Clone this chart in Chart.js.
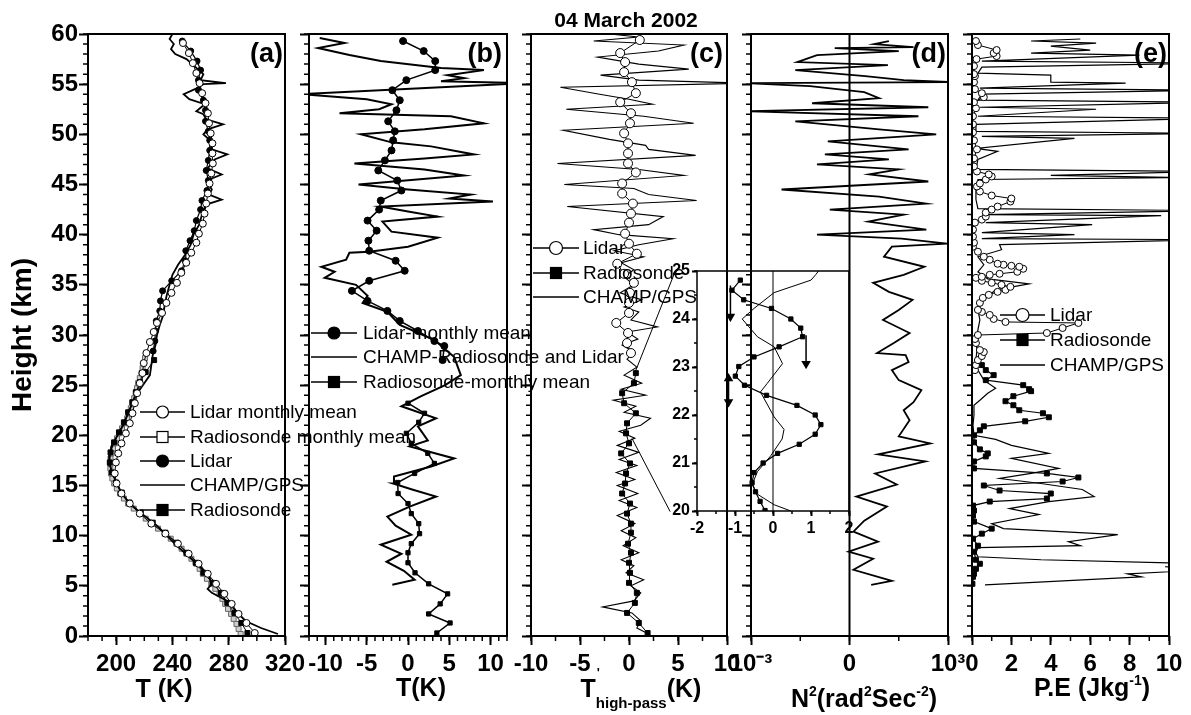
<!DOCTYPE html>
<html lang="en">
<head>
<meta charset="UTF-8">
<title>04 March 2002 - temperature, perturbation, N2 and P.E profiles</title>
<script src="https://cdn.jsdelivr.net/npm/chart.js"></script>
<style>
  body { margin: 0; background: #fff; }
  #wrap { position: relative; width: 1191px; height: 715px; }
  #wrap canvas { position: absolute; left: 0; top: 0; }
</style>
</head>
<body>
<div id="wrap">
  <canvas id="panelA" width="1191" height="715"></canvas>
  <canvas id="panelB" width="1191" height="715"></canvas>
  <canvas id="panelC" width="1191" height="715"></canvas>
  <canvas id="panelD" width="1191" height="715"></canvas>
  <canvas id="panelE" width="1191" height="715"></canvas>
  <canvas id="inset" width="1191" height="715"></canvas>
</div>
<script>
// ---- tick values ----
const heightTicks = [0, 5, 10, 15, 20, 25, 30, 35, 40, 45, 50, 55, 60];
const aTicks = [200, 240, 280, 320];
const bTicks = [-10, -5, 0, 5, 10];
const cTicks = [-10, -5, 0, 5, 10];
const dTicks = [-1, 0, 1];
const dTickLabels = ['10\u207B\u00B3', '0', '10\u00B3'];
const eTicks = [0, 2, 4, 6, 8, 10];
const insetXTicks = [-2, -1, 0, 1, 2];
const insetYTicks = [20, 21, 22, 23, 24, 25];

// ---- (a) temperature (K) ----
const aLidarMeanH = [0.3,1.3,2.2,3.2,4.2,5.2,6.2,7.2,8.2,9.2,10.2,11.2,12.2,13.2,14.2,15.2,16.2,17.3,18.2,19.2,20.2,21.2,22.2,23.2,24.2,25.2,26.2,27.2,28.2,29.3,30.3,31.2,32.2,33.2,34.2,35.2,36.2,37.2,38.2,39.2,40.1,41.1,42.1,43.1,44.1,45.1,46.1,47.1,48.1,49.1,50.1,51.1,52.1,53.1,54.1,55.1,56.1,57.1,58.1,59.1];
const aLidarMeanT = [298.5,292.6,287,282.1,276.9,271,265.1,258.6,251.5,243.9,235,225,216.8,209.7,203.8,200.3,199,199.8,201.5,203.8,206.9,209.7,211.6,213.3,214.9,216.8,218.7,219.6,221.5,224,226.7,229,232.6,235.7,239.3,243.2,246.3,249.8,253.4,257,258.8,261.6,262.8,264,265.2,266.4,267.6,268.7,268.4,268.4,267.2,266,265.2,263.5,261.1,259.3,257,254.5,251.7,247.5];
const aRadMeanH = [0.2,0.7,1.2,1.7,2.2,2.7,3.2,3.7,4.2,4.7,5.2,5.7,6.2,6.7,7.2,7.7,8.2,8.7,9.2,9.7,10.2,10.7,11.2,11.7,12.2,12.7,13.2,13.7,14.2,14.7,15.2,15.7,16.2,16.7,17.2,17.7,18.2,18.7,19.2,19.7,20.2,20.7,21.2,21.7,22.2,22.7,23.2,23.7,24.2,24.7,25.2,25.7,26.2,26.7,27.2,27.7];
const aRadMeanT = [288.5,287,285.5,283.5,281.7,279.5,277.5,275.5,273.5,270.5,267.6,264.5,261.6,259.3,257,253.5,249.9,246.5,242.8,238.8,234.5,229.8,225,221,216.8,212.5,208.5,205.5,202.7,200.5,198.6,197.3,196.3,195.9,195.6,196,196.8,197.8,199.1,200.6,202.2,204.2,206.2,207.8,209.2,210.4,211.6,212.8,214,214.8,215.6,216.8,218,218.8,219.6,220.5];
const aLidarH = [28.4,29.4,30.4,31.4,32.4,33.4,34.4,35.4,36.4,37.4,38.4,39.4,40.4,41.4,42.5,43.4,44.4,45.4,46.4,47.4,48.4,49.4,50.3,51.3,52.4,53.4,54.4,55.4,56.4,57.3,58.3,59.3];
const aLidarT = [226.3,227.5,228,228.5,231,231.5,233,239.5,246.5,249,249.5,252.5,255.5,257,260,261,264.5,265.5,264,265.5,266.5,266.5,265.5,263.5,263.5,262,258.5,258.5,260,257.5,253,247];
const aChampH = [0.2,0.8,1.5,2.5,3.5,4.3,4.7,5.2,6,7,8,9,10,11,12,13,14,15,16,17,18,19,20,21,22,23,24,25,26,27,28,29,30,31,32,33,34,35,36,37,38,39,40,41,42,43,43.5,44,44.5,45,45.6,46,46.6,47.5,48,48.5,49.5,50,50.5,51,51.5,52,52.3,53,53.5,54,54.5,55,55.1,55.4,56,56.5,57,57.5,58,58.5,59,59.5,60];
const aChampT = [315,303,292,285,279,268,265,268,266,259,251,243,236,229,220,211,205,201,198,195.5,195,197,201,205,208,211,214,219,224,225,226,228,229,231,233.5,234.5,236,238,240,244,249,253,255,259,261,264,275,266,268,266,268,275,265,270,279,268,266,262,265,276,264,262,257,263,252,248,256,262,278,260,262,258,254,250,242,239,241,238,240];
const aRadH = [0.3,1.3,2.3,3.3,4.3,5.3,6.3,7.3,8.3,9.3,10.3,11.3,12.3,13.3,14.3,15.3,16.3,17.3,18.3,19.3,20.3,21.3,22.3,23.3,24.3,25.3,26.3,27.5];
const aRadT = [293.3,289,284,279,274.5,268.5,262,256.5,250,243,235,226,217.5,209.5,204,200,197,195.5,196,198.5,202,205.5,208.5,211.5,214,217,221,227];

// ---- (b) deviation from monthly mean (K) ----
const bLidarH = [27.5,28.9,29.4,30.4,31.4,32.4,33.4,34.4,35.4,36.4,37.4,38.4,39.4,40.4,41.4,42.5,43.4,44.4,45.4,46.4,47.4,48.4,49.4,50.3,51.3,52.4,53.4,54.4,55.4,56.4,57.3,58.3,59.3];
const bLidarT = [4.2,4.4,3.2,1.2,-1.0,-2.5,-4.9,-6.8,-4.7,-0.4,-1.5,-4.7,-4.8,-3.8,-4.9,-3.5,-3.3,-0.8,-1.3,-3.6,-2.8,-2.0,-1.8,-1.6,-2.4,-1.4,-1.0,-1.9,-0.2,3.3,3.3,1.9,-0.6];
const bChampH = [5.1,5.6,6.5,7.4,8.2,9.1,10.1,11.0,11.9,12.9,13.9,14.6,15.2,15.9,16.9,17.7,18.9,19.5,20.9,21.7,22.9,23.9,25.0,26.0,27.8,29.5,30.3,31.0,32.3,33.2,33.9,35.0,35.7,36.3,36.8,37.5,38.2,38.3,38.8,39.7,40.3,41.3,41.8,42.3,42.8,43.3,43.6,44.0,44.5,45.0,45.9,46.5,47.1,47.6,48.0,48.8,49.2,50.0,50.5,51.1,51.8,52.1,52.5,53.0,53.5,54.0,55.1,55.3,55.6,55.9,56.4,56.6,57.3,57.9,58.6,59.1,59.6];
const bChampT = [-1.9,0.8,-0.5,-2.6,-0.8,-3.3,0.4,-1.5,-2.5,0.2,3.4,0.5,-1.8,-1.7,2.8,5.6,0.2,2.4,1.2,3.4,-0.8,1.6,4.5,6.4,5.6,3.2,1,-1.0,-2.5,-5.5,-4.9,-6.3,-10.1,-8.9,-10.5,-7.5,-7.1,-4.7,0,3.6,-2,-3.1,3.6,0,-3.3,10.3,5,7.6,0,-6,6.8,2,-6.5,2,8.0,2.8,-2,-5.7,2,9.2,5.2,-8.3,-3.5,-2,-5,-13,14,4,6.8,4.8,9.2,4.0,-3.3,-7.1,-10.9,-7.7,-10.7];
const bRadH = [0.3,1.3,2.2,3.2,4.2,5.2,6.3,7.3,8.3,9.2,10.2,11.2,12.2,13.2,14.2,15.3,16.2,17.2,18.2,19.2,20.2,21.3,22.2,23.2];
const bRadT = [3.5,5.1,2.5,3.9,4.8,2.5,0.85,0,0,0.4,1.4,1.3,0.4,0,-1.2,-1.25,0.8,3.2,2.4,0.4,-0.2,1.3,2.0,0];

// ---- (c) high-pass perturbation (K) ----
const cLidarH = [28.2,29.2,30.2,31.2,32.2,33.2,34.2,35.2,36.1,37.1,38.1,39.1,40.1,41.2,42.1,43.1,44.1,45.1,46.2,47.1,48.1,49.1,50.1,51.1,52.1,53.2,54.1,55.2,56.2,57.2,58.1,59.4];
const cLidarT = [0.2,-0.2,-0.1,-1.3,0,0,0.1,0.5,-0.5,-1.2,0.8,0,-0.4,0,0.2,0.4,-0.7,-0.7,0.7,-0.1,-0.1,-0.1,-0.5,0.1,0.2,-0.9,0.7,0.3,-0.5,-0.4,-0.9,1.1];
const cRadH = [0.3,1.3,2.3,3.3,4.3,5.3,6.3,7.3,8.3,9.2,10.3,11.2,12.2,13.2,14.2,15.2,16.2,17.2,18.2,19.2,20.2,21.2,22.2,23.2,24.2,25.2,26.2];
const cRadT = [1.9,1.0,-0.2,0.6,0.8,0,0.1,0,0.2,-0.1,0.2,0.2,-0.2,0.1,-0.7,-0.4,-0.3,0.1,-0.8,0,-0.3,-0.2,0.7,-0.5,-0.7,0.5,0.7];
const cChampH = [0.2,0.8,1.5,2.3,2.9,3.5,4.3,5.0,5.6,6.3,7.0,7.6,8.3,9.0,9.8,10.5,11.2,12.0,12.8,13.5,14.2,15.0,15.6,16.3,17.0,17.6,18.3,19.0,19.7,20.4,21.0,21.7,22.3,22.9,23.5,24.0,24.6,25.2,26.0,26.8,27.6,28.3,29.0,29.6,30.3,30.8,31.5,32.3,32.8,33.5,34.2,35.0,35.8,36.5,37.2,37.8,38.4,39.0,39.6,40.0,40.5,41.0,41.8,42.8,43.4,44.0,44.6,45.0,45.9,46.5,47.1,47.9,48.5,48.9,49.5,50.4,51.1,51.8,52.5,53.0,53.5,54.0,54.7,55.1,55.4,55.9,56.5,57.0,57.7,58.3,58.9,59.3,59.7,60.0];
const cChampT = [2,0.8,1.2,0.3,-2.7,0.5,1.2,0.2,1.5,-0.3,0.5,-0.8,1.0,-0.6,0.7,-0.8,0.6,-1.2,0.8,-1.0,0.9,-1.2,0.6,-1.3,0.8,-1.0,1.0,-1.2,0.6,-1.0,1.2,2.2,-0.5,0.7,-1.6,1.7,-0.8,1.3,-0.5,0.8,-0.2,0.5,-0.7,0.9,-0.2,2.9,0.2,1.0,-0.5,1.3,-0.9,0.5,-0.5,0.5,-0.8,1.5,-1.5,1.0,4.5,-1,-3.6,2,3.5,-6.3,6.9,2,0.5,-6.6,5.6,1,-7.3,6.8,2,1.7,-2,-6.7,6.6,1.5,-6.4,2.4,0,-3,-7.0,12,1,-2.9,6.1,1,-3.2,3,5.6,-3.6,1,-2];
// zoom guide lines from the panel to the inset
const cLinkTopH = [26.0, 36.3];
const cLinkTopT = [0.5, 4.7];
const cLinkBotH = [19.7, 12.4];
const cLinkBotT = [0.3, 4.2];

// ---- (d) N^2 (axis units: -1 = 1e-3 side, 0, 1 = 1e3 side) ----
const dH = [5.1,5.5,6.6,7.7,8.4,9.4,10.4,11.5,12.9,13.9,15.1,16.2,17.4,18.1,19.2,19.9,21.5,22.5,23.3,24.5,25.5,26.5,27.3,28.0,28.2,29.2,30.2,31.5,32.5,33.5,34.3,35.2,36.0,36.8,37.8,38.8,39.1,39.6,40.0,40.5,41.3,42.0,42.5,43.1,43.8,44.5,45.3,46.0,46.5,47.0,47.5,48.0,48.5,49.3,50.0,50.5,51.3,51.8,52.3,52.7,53.1,53.6,54.2,54.8,55.1,55.2,55.4,55.8,56.4,56.9,57.2,57.9,58.3,58.6,58.7,59.0,59.3];
const dV = [0.22,0.43,0.04,0.24,-0.01,0.29,0.04,0.15,0.38,0.07,0.48,0.26,0.77,0.29,0.82,0.5,0.61,0.55,0.65,0.73,0.5,0.43,0.6,0.57,0.28,0.45,0.61,0.34,0.5,0.64,0.4,0.24,0.55,0.76,0.35,0.43,0.99,0.53,-0.33,0.78,0.19,0.55,-0.2,0.78,0.3,-0.69,0.8,0.2,0.5,-0.33,0.4,-0.25,0.6,-0.22,0.88,0.3,-0.55,0.7,-1.05,0.8,-0.38,0.3,0.15,-0.4,-1.05,1.05,0.55,0.16,-0.55,0.39,-0.53,-0.33,0.5,-0.15,0.65,0.25,0.4];

// ---- (e) potential energy (J/kg) ----
const eLidarH = [26.5,27.0,27.5,27.9,28.3,28.5,29.2,29.6,30.0,30.2,30.7,31.2,31.3,31.6,32.0,32.3,32.5,33.2,33.7,34.0,34.3,34.5,34.8,35.0,35.2,35.4,35.7,35.8,36.0,36.1,36.3,36.6,36.8,36.9,37.0,37.1,37.5,37.8,38.3,38.8,39.2,39.8,40.5,41.2,41.5,41.8,42.2,42.5,42.8,43.3,43.6,43.9,44.3,44.8,45.1,45.5,45.8,46.0,46.3,46.8,47.6,48.5,49.4,50.2,51.0,51.8,52.6,53.2,53.7,54.1,54.5,55.2,55.8,56.0,56.8,57.5,57.8,58.1,58.4,58.9,59.3];
const eLidarV = [0.15,0.2,0.3,0.5,0.6,0.4,0.2,0.15,0.3,3.8,4.6,5.4,1.7,1.1,0.9,0.5,0.3,0.4,0.55,0.85,1.3,1.7,1.95,1.5,1.0,0.5,0.2,0.5,0.9,1.4,2.3,2.6,2.4,2.0,1.6,1.3,0.9,0.6,0.3,0.05,0.1,0.05,0.05,0.15,0.5,0.7,0.7,1.0,1.3,1.95,2.0,1.0,0.4,0.25,0.4,0.7,1.0,0.85,0.25,0.1,0.1,0.25,0.1,0.05,0.05,0.05,0.2,0.1,0.6,0.5,0.15,0.1,0.15,0.1,0.1,0.23,1.25,1.1,1.25,0.3,0.2];
const eRadH = [5.2,5.9,6.2,6.7,7.2,7.6,8.4,9.0,9.7,10.2,10.7,11.4,12.0,12.5,13.0,13.4,13.7,14.2,14.5,15.0,15.4,15.8,16.2,16.7,17.4,17.9,18.2,18.6,19.3,20.0,20.5,20.9,21.4,21.8,22.2,22.5,23.0,23.4,23.9,24.4,24.6,25.0,25.5,26.0,26.5,27.0];
const eRadV = [0.02,0.05,0.1,0.2,0.4,0.2,0.1,0.3,0.05,0.5,1.0,0.1,0.05,0.1,0.05,0.9,3.8,4.0,1.4,0.6,4.6,5.4,3.8,0.1,0.1,0.7,0.8,0.4,0.1,0.1,0.4,0.6,2.7,3.9,3.6,2.4,2.1,1.7,2.1,3.0,2.9,2.6,0.7,1.1,0.7,0.5];
const eChampH = [5.1,5.9,6.2,6.6,6.9,7.2,7.6,7.9,8.3,8.8,9.0,9.4,10.1,10.7,11.2,12.1,12.7,13.4,13.9,14.6,15.2,15.7,16.2,16.7,17.7,18.2,19.0,19.6,20.0,21.0,22.0,23.0,23.5,24.2,24.7,25.5,26.5,27.5,28.5,29.5,30.5,31.5,32.5,33.5,34.5,35.1,35.6,36.3,37.0,37.8,38.5,39.0,39.5,39.6,40.0,40.2,41.0,41.2,41.9,42.0,42.4,42.6,43.5,44.5,45.5,45.7,45.9,46.3,46.5,47.5,48.3,48.6,49.6,49.8,50.1,50.3,51.0,51.6,51.8,52.5,52.7,53.2,53.4,54.0,54.4,54.6,55.1,55.2,55.9,56.1,56.7,57.1,57.3,57.9,58.1,58.4,58.8,59.1,59.3,59.5];
const eChampV = [0.66,8.6,7.9,12,9.8,12,3.5,0.3,0.2,0.3,5.5,4.9,7.4,1.6,1.0,3.4,1.9,3.9,6.2,5.6,3.5,1.4,3.0,4.4,2.0,3.9,2.0,1.2,0.1,0.05,0.1,0.1,0.4,0.8,1.2,0.6,0.3,0.2,0.25,0.2,0.3,0.4,0.3,0.6,1.2,2.9,0.8,0.3,0.6,0.3,1.5,1.4,12,0.5,5.2,0.5,6.1,0.7,9.6,0.6,12,0.3,0.2,0.2,0.3,10.5,4,12,0.2,0.3,1.3,0.2,5.2,0.5,12,0.2,0.2,12,0.3,6.3,0.4,12,0.3,0.5,12,0.4,7.8,4,4.0,0.3,0.5,12,0.5,8.5,3,6,4,6.3,3,5.5];

// ---- inset (20-25 km, K) ----
const insRadH = [20.01,20.2,20.4,20.59,20.8,21.0,21.2,21.39,21.6,21.8,22.0,22.2,22.41,22.62,22.81,23.01,23.21,23.42,23.63,23.81,24.0,24.22,24.4,24.6,24.81];
const insRadV = [-0.21,-0.34,-0.46,-0.55,-0.5,-0.26,0.12,0.69,1.11,1.26,1.11,0.63,-0.17,-0.75,-0.99,-0.9,-0.5,0.16,0.78,0.73,0.47,-0.04,-0.77,-1.08,-0.86];
const insChampH = [20.0,20.13,20.35,20.55,20.82,21.15,21.5,21.7,21.96,22.48,22.66,23.07,23.42,23.63,24.0,24.22,24.55,24.81,24.93,25.0];
const insChampV = [0.47,0.03,-0.41,-0.55,-0.41,-0.06,0.24,0.29,0.03,-0.33,-0.15,0.25,0.03,-0.41,-0.81,-0.5,0.03,1.0,1.13,1.2];
const insArrow1H = [24.7, 24.05], insArrow1V = [-1.12, -1.12];
const insArrow2H = [23.66, 23.07], insArrow2V = [0.87, 0.87];
const insArrow3H = [22.76, 22.27], insArrow3V = [-1.17, -1.17];

// ---------------------------------------------------------------
const FONT = "'Liberation Sans', Arial, Helvetica, sans-serif";
const W = 1191, H = 715;
Chart.defaults.font.family = FONT;
Chart.defaults.color = '#000';

function pts(hs, vs) { return hs.map((h, i) => ({ x: vs[i], y: h })); }

function line(hs, vs, width, extra) {
  return Object.assign({
    data: pts(hs, vs), showLine: true, borderColor: '#000', borderWidth: width,
    pointRadius: 0, pointHoverRadius: 0, tension: 0, fill: false
  }, extra || {});
}
function marked(hs, vs, width, style, r, filled) {
  return line(hs, vs, width, {
    pointStyle: style, pointRadius: r,
    pointBackgroundColor: filled ? '#000' : '#fff', pointBorderColor: '#000', pointBorderWidth: 1
  });
}

function axis(min, max, ticks, o) {
  return {
    type: 'linear', min: min, max: max,
    afterBuildTicks: s => { s.ticks = ticks.map(v => ({ value: v })); },
    afterFit: s => {
      if (o.width !== undefined) s.width = o.width;
      if (o.height !== undefined) s.height = o.height;
    },
    ticks: {
      display: o.labels !== false, autoSkip: false, maxRotation: 0, minRotation: 0,
      padding: o.pad !== undefined ? o.pad : 5,
      font: { size: o.size || 24, weight: 'bold' }, color: '#000',
      callback: o.fmt || (v => String(v))
    },
    grid: { drawOnChartArea: false, drawTicks: true, tickLength: o.tick || 9, tickWidth: 2, tickColor: '#000' },
    border: { display: false },
    title: o.title || { display: false }
  };
}

// box outline, minor ticks and zero line
const framePlugin = {
  id: 'frame',
  afterDatasetsDraw(chart, args, o) {
    const { ctx, chartArea: a, scales: { x, y } } = chart;
    ctx.save();
    ctx.strokeStyle = '#000';
    ctx.lineWidth = 1.5;
    const len = o.minorLen || 5;
    ctx.beginPath();
    if (o.minorX) {
      const n = Math.round((x.max - x.min) / o.minorX);
      for (let i = 0; i <= n; i++) {
        const px = x.getPixelForValue(x.min + i * o.minorX);
        ctx.moveTo(px, a.bottom); ctx.lineTo(px, a.bottom + len);
      }
    }
    if (o.minorY) {
      const n = Math.round((y.max - y.min) / o.minorY);
      for (let i = 0; i <= n; i++) {
        const py = y.getPixelForValue(y.min + i * o.minorY);
        ctx.moveTo(a.left - len, py); ctx.lineTo(a.left, py);
      }
    }
    ctx.stroke();
    if (o.zeroX) {
      const px = x.getPixelForValue(0);
      ctx.lineWidth = o.zeroWidth || 1;
      ctx.beginPath(); ctx.moveTo(px, a.top); ctx.lineTo(px, a.bottom); ctx.stroke();
    }
    ctx.lineWidth = o.lineWidth || 2;
    ctx.strokeRect(a.left, a.top, a.right - a.left, a.bottom - a.top);
    ctx.restore();
  }
};

// hand-placed legends (they overlap neighbouring panels in the original)
const keyPlugin = {
  id: 'keys',
  afterDraw(chart, args, o) {
    if (!o || !o.items) return;
    const ctx = chart.ctx;
    ctx.save();
    ctx.font = (o.size || 19) + 'px ' + FONT;
    ctx.textBaseline = 'middle';
    ctx.textAlign = 'left';
    ctx.strokeStyle = '#000';
    o.items.forEach(it => {
      ctx.lineWidth = 1.5;
      ctx.beginPath(); ctx.moveTo(o.x0, it.y); ctx.lineTo(o.x1, it.y); ctx.stroke();
      const cx = (o.x0 + o.x1) / 2;
      ctx.lineWidth = 1.2;
      ctx.fillStyle = it.fill ? '#000' : '#fff';
      if (it.marker === 'circle') {
        ctx.beginPath(); ctx.arc(cx, it.y, it.r, 0, Math.PI * 2); ctx.fill(); ctx.stroke();
      } else if (it.marker === 'square') {
        ctx.fillRect(cx - it.r, it.y - it.r, it.r * 2, it.r * 2);
        ctx.strokeRect(cx - it.r, it.y - it.r, it.r * 2, it.r * 2);
      }
      ctx.fillStyle = '#000';
      ctx.fillText(it.label, o.tx, it.y + 1);
    });
    ctx.restore();
  }
};

// titles and panel letters, with simple super/subscripts
const notePlugin = {
  id: 'notes',
  afterDraw(chart, args, o) {
    if (!o || !o.items) return;
    const ctx = chart.ctx;
    ctx.save();
    ctx.fillStyle = '#000';
    ctx.textBaseline = 'alphabetic';
    ctx.textAlign = 'left';
    o.items.forEach(it => {
      let total = 0;
      it.parts.forEach(p => {
        ctx.font = 'bold ' + p.s + 'px ' + FONT;
        p.w = ctx.measureText(p.t).width;
        if (!p.over) total += p.w;
      });
      let x = it.align === 'right' ? it.x - total : it.align === 'left' ? it.x : it.x - total / 2;
      it.parts.forEach(p => {
        ctx.font = 'bold ' + p.s + 'px ' + FONT;
        ctx.fillText(p.t, x + (p.dx || 0), it.y + (p.dy || 0));
        if (!p.over) x += p.w;
      });
    });
    ctx.restore();
  }
};

function panel(id, box, xAx, yAx, datasets, plug) {
  return new Chart(document.getElementById(id), {
    type: 'scatter',
    data: { datasets: datasets },
    options: {
      responsive: false, animation: false, events: [], devicePixelRatio: 1,
      layout: { padding: { left: box.l - box.yw, right: W - box.r, top: box.t, bottom: H - box.b - box.xh } },
      plugins: Object.assign({ legend: { display: false }, tooltip: { enabled: false } }, plug),
      scales: { x: xAx, y: yAx }
    },
    plugins: [framePlugin, keyPlugin, notePlugin]
  });
}

const TOP = 34, BOT = 636;
const hAxis = (labels) => axis(0, 60, heightTicks, labels ? {
  width: 88, labels: true, size: 24, pad: 1,
  title: { display: true, text: 'Height (km)', font: { size: 28, weight: 'bold' }, padding: { top: 6, bottom: 0 }, color: '#000' }
} : { width: 10, labels: false });

// (a)
panel('panelA', { l: 88, r: 285, t: TOP, b: BOT, yw: 88, xh: 79 },
  axis(180, 320, aTicks, { height: 79 }), hAxis(true), [
    marked(aLidarMeanH, aLidarMeanT, 1, 'circle', 3.5, false),
    marked(aLidarH, aLidarT, 1.2, 'circle', 3, true),
    line(aChampH, aChampT, 1.8),
    marked(aRadH, aRadT, 1, 'rect', 3.5, true),
    line(aRadMeanH, aRadMeanT, 1, { borderColor: '#777', pointStyle: 'rect', pointRadius: 3.5,
      pointBackgroundColor: '#d0d0d0', pointBorderColor: '#666', pointBorderWidth: 1 })
  ], {
    frame: { minorX: 10, minorY: 1 },
    keys: { x0: 140, x1: 185, tx: 190, items: [
      { label: 'Lidar monthly mean', y: 412, marker: 'circle', fill: false, r: 6 },
      { label: 'Radiosonde monthly mean', y: 437, marker: 'square', fill: false, r: 5.5 },
      { label: 'Lidar', y: 461, marker: 'circle', fill: true, r: 6 },
      { label: 'CHAMP/GPS', y: 485, marker: 'none' },
      { label: 'Radiosonde', y: 510, marker: 'square', fill: true, r: 5.5 }
    ] },
    notes: { items: [
      { parts: [{ t: 'T (K)', s: 25 }], x: 164, y: 697 },
      { parts: [{ t: '(a)', s: 27 }], x: 283, y: 62, align: 'right' }
    ] }
  });

// (b)
panel('panelB', { l: 309, r: 507, t: TOP, b: BOT, yw: 10, xh: 79 },
  axis(-12, 12, bTicks, { height: 79 }), hAxis(false), [
    marked(bLidarH, bLidarT, 1.5, 'circle', 3.5, true),
    line(bChampH, bChampT, 2),
    marked(bRadH, bRadT, 1.5, 'rect', 3, true)
  ], {
    frame: { minorX: 1, minorY: 1 },
    keys: { x0: 311, x1: 357, tx: 363, items: [
      { label: 'Lidar-monthly mean', y: 333, marker: 'circle', fill: true, r: 6 },
      { label: 'CHAMP-Radiosonde and Lidar', y: 357, marker: 'none' },
      { label: 'Radiosonde-monthly mean', y: 382, marker: 'square', fill: true, r: 5.5 }
    ] },
    notes: { items: [
      { parts: [{ t: 'T(K)', s: 25 }], x: 421, y: 696 },
      { parts: [{ t: '(b)', s: 27 }], x: 502, y: 62, align: 'right' }
    ] }
  });

// (c)
panel('panelC', { l: 531, r: 727, t: TOP, b: BOT, yw: 10, xh: 79 },
  axis(-10, 10, cTicks, { height: 79 }), hAxis(false), [
    marked(cLidarH, cLidarT, 1, 'circle', 4.5, false),
    marked(cRadH, cRadT, 1, 'rect', 3.5, true),
    line(cChampH, cChampT, 1.1),
    line(cLinkTopH, cLinkTopT, 1),
    line(cLinkBotH, cLinkBotT, 1)
  ], {
    frame: { minorX: 2.5, minorY: 1 },
    keys: { x0: 533, x1: 579, tx: 583, items: [
      { label: 'Lidar', y: 248, marker: 'circle', fill: false, r: 6.5 },
      { label: 'Radiosonde', y: 273, marker: 'square', fill: true, r: 5.5 },
      { label: 'CHAMP/GPS', y: 297, marker: 'none' }
    ] },
    notes: { items: [
      { parts: [{ t: 'T', s: 25 }, { t: '\'', s: 13, dy: -20, dx: 1, over: true },
                { t: 'high-pass', s: 15, dy: 11 }, { t: '(K)', s: 25 }], x: 641, y: 697 },
      { parts: [{ t: '(c)', s: 27 }], x: 723, y: 62, align: 'right' },
      { parts: [{ t: '04 March 2002', s: 21 }], x: 626, y: 27 }
    ] }
  });

// (d)
panel('panelD', { l: 751, r: 948, t: TOP, b: BOT, yw: 10, xh: 79 },
  axis(-1, 1, dTicks, { height: 79, fmt: v => dTickLabels[dTicks.indexOf(v)] }), hAxis(false), [
    line(dH, dV, 1.8)
  ], {
    frame: { minorX: 0.5, minorY: 1, zeroX: true, zeroWidth: 2 },
    notes: { items: [
      { parts: [{ t: 'N', s: 25 }, { t: '2', s: 14, dy: -11 }, { t: '(rad', s: 25 }, { t: '2', s: 14, dy: -11 },
                { t: 'Sec', s: 25 }, { t: '-2', s: 14, dy: -11 }, { t: ')', s: 25 }], x: 864, y: 707 },
      { parts: [{ t: '(d)', s: 27 }], x: 946, y: 62, align: 'right' }
    ] }
  });

// (e)
panel('panelE', { l: 972, r: 1169, t: TOP, b: BOT, yw: 10, xh: 79 },
  axis(0, 10, eTicks, { height: 79 }), hAxis(false), [
    marked(eLidarH, eLidarV, 1, 'circle', 3.5, false),
    marked(eRadH, eRadV, 1.2, 'rect', 3.5, true),
    line(eChampH, eChampV, 1.2)
  ], {
    frame: { minorX: 1, minorY: 1 },
    keys: { x0: 1000, x1: 1045, tx: 1050, items: [
      { label: 'Lidar', y: 315, marker: 'circle', fill: false, r: 6.5 },
      { label: 'Radiosonde', y: 340, marker: 'square', fill: true, r: 5.5 },
      { label: 'CHAMP/GPS', y: 365, marker: 'none' }
    ] },
    notes: { items: [
      { parts: [{ t: 'P.E (Jkg', s: 25 }, { t: '-1', s: 14, dy: -11 }, { t: ')', s: 25 }], x: 1092, y: 696 },
      { parts: [{ t: '(e)', s: 27 }], x: 1167, y: 62, align: 'right' }
    ] }
  });

// inset (zoom of 20-25 km)
const arrowDown = (hs, vs) => line(hs, vs, 1.5, { pointStyle: 'triangle', pointRadius: [0, 4],
  pointRotation: 180, pointBackgroundColor: '#000', pointBorderColor: '#000' });
panel('inset', { l: 697, r: 849, t: 271, b: 511, yw: 32, xh: 30 },
  axis(-2, 2, insetXTicks, { height: 30, size: 16, tick: 5, pad: 3 }),
  axis(20, 25, insetYTicks, { width: 32, size: 16, tick: 5, pad: 2 }), [
    marked(insRadH, insRadV, 1.2, 'rect', 3, true),
    line(insChampH, insChampV, 1),
    arrowDown(insArrow1H, insArrow1V),
    arrowDown(insArrow2H, insArrow2V),
    line(insArrow3H, insArrow3V, 1.5, { pointStyle: 'triangle', pointRadius: [4, 4], pointRotation: [0, 180],
      pointBackgroundColor: '#000', pointBorderColor: '#000' })
  ], {
    frame: { minorX: 0.5, minorY: 0.5, minorLen: 3, zeroX: true, zeroWidth: 1, lineWidth: 1.5 }
  });
</script>
</body>
</html>
